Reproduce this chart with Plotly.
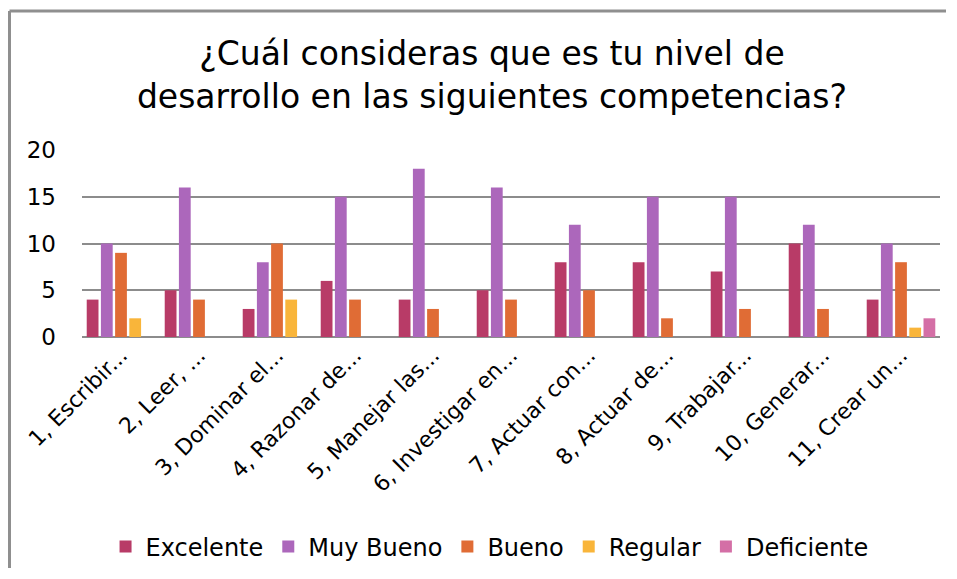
import plotly.graph_objects as go

categories = ["1, Escribir...", "2, Leer, ...", "3, Dominar el...", "4, Razonar de...",
              "5, Manejar las...", "6, Investigar en...", "7, Actuar con...",
              "8, Actuar de...", "9, Trabajar...", "10, Generar...", "11, Crear un..."]
excelente = [4, 5, 3, 6, 4, 5, 8, 8, 7, 10, 4]
muy_bueno = [10, 16, 8, 15, 18, 16, 12, 15, 15, 12, 10]
bueno = [9, 4, 10, 4, 3, 4, 5, 2, 3, 3, 8]
regular = [2, 0, 4, 0, 0, 0, 0, 0, 0, 0, 1]
deficiente = [0, 0, 0, 0, 0, 0, 0, 0, 0, 0, 2]

series = [
    ("Excelente", excelente, "#B83B67"),
    ("Muy Bueno", muy_bueno, "#AC67BB"),
    ("Bueno", bueno, "#E06C35"),
    ("Regular", regular, "#F9B53A"),
    ("Deficiente", deficiente, "#D46FA6"),
]

FONT = "DejaVu Sans, sans-serif"

fig = go.Figure()
for name, vals, color in series:
    fig.add_trace(go.Bar(x=categories, y=vals, name=name,
                         marker=dict(color=color, line=dict(width=0))))

fig.update_layout(
    width=941, height=563,
    margin=dict(l=74, r=9, t=142, b=234),
    paper_bgcolor="white", plot_bgcolor="white",
    barmode="group", bargap=0.09, bargroupgap=0.17,
    font=dict(family=FONT, color="black"),
    title=dict(text="¿Cuál consideras que es tu nivel de<br>desarrollo en las siguientes competencias?",
               x=0.5143, xanchor="center", y=0.899, yanchor="middle",
               font=dict(size=33, family=FONT, color="black")),
    showlegend=True,
    legend=dict(orientation="h", x=0.475, xanchor="center", yref="container",
                y=0.0426, yanchor="middle",
                font=dict(size=24, family=FONT), itemwidth=30, traceorder="normal"),
    xaxis=dict(tickangle=-45, tickfont=dict(size=22, family=FONT), showgrid=False,
               showline=False, ticks="", automargin=False),
    yaxis=dict(range=[0, 20], tickvals=[0, 5, 10, 15, 20], showgrid=True,
               gridcolor="#8c8c8c", gridwidth=2, zeroline=True, zerolinecolor="#8c8c8c",
               zerolinewidth=2, tickfont=dict(size=23, family=FONT), ticklabelstandoff=25,
               automargin=False),
)

border = dict(color="#8f8f8f", width=3)
fig.add_shape(type="line", xref="paper", yref="paper",
              x0=-0.0845, x1=1.007, y0=1.743, y1=1.743, line=border, layer="below")
fig.add_shape(type="line", xref="paper", yref="paper",
              x0=-0.0845, x1=-0.0845, y0=-1.235, y1=1.743, line=border, layer="below")

fig.write_html("out.html")
